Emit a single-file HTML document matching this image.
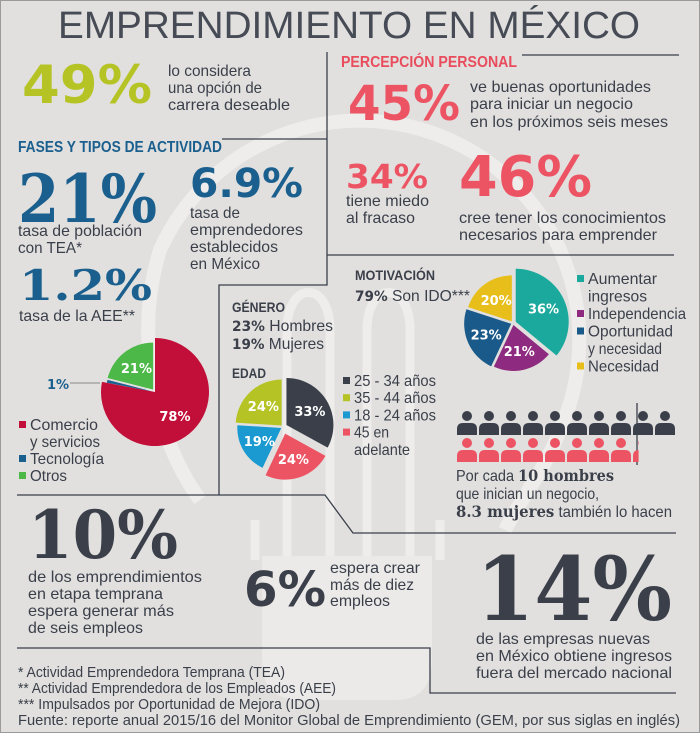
<!DOCTYPE html>
<html><head><meta charset="utf-8">
<style>
html,body{margin:0;padding:0;background:#e1e0de;}
svg{display:block}
.b{font-family:"Liberation Sans",sans-serif;font-size:16px;fill:#3a3f4a}
.h{font-family:"Liberation Sans",sans-serif;font-weight:bold}
.n{font-family:"DejaVu Sans","Liberation Sans",sans-serif;font-weight:bold}
.s{font-family:"DejaVu Serif","Liberation Serif",serif;font-weight:bold}
.w{fill:#fff;font-family:"DejaVu Sans",sans-serif;font-weight:bold;font-size:13px;text-anchor:middle}
.ln{stroke:#3a3f4a;stroke-width:1.3;fill:none}
</style></head>
<body>
<svg id="chart" width="700" height="733" viewBox="0 0 700 733" xmlns="http://www.w3.org/2000/svg">
<rect x="0" y="0" width="700" height="733" fill="#e1e0de" stroke="#9a9a9a" stroke-width="2"/>
<g fill="none" stroke="#f2f1ef" stroke-opacity="0.75">
  <path d="M200,500 C150,430 135,330 160,250 A215,215 0 1 1 560,430 C545,470 520,500 505,530" stroke-width="14"/>
  <path d="M287,560 L287,330 C287,280 330,280 330,330 L330,560" stroke-width="9"/>
  <path d="M367,560 L367,330 C367,280 410,280 410,330 L410,560" stroke-width="9"/>
  <path d="M255,560 L255,520 M440,560 L440,520" stroke-width="9"/>
</g>
<path d="M262,556 L432,556 L432,660 Q432,700 395,700 L300,700 Q262,700 262,660 Z" fill="#ebeae8"/>

<text x="349" y="38" text-anchor="middle" font-family="Liberation Sans, sans-serif" font-size="38" fill="#464b55" textLength="582" lengthAdjust="spacingAndGlyphs">EMPRENDIMIENTO EN MÉXICO</text>

<g>
<path class="ln" d="M327,52 L327,285 L219,285 L219,495 L17,495"/>
<path class="ln" d="M222,139 L327,139"/>
<path class="ln" d="M522,55 L679,55"/>
<path class="ln" d="M327,255 L674,255"/>
<path class="ln" d="M219,495 L325,495 L353,533 L676,533"/>
<path class="ln" d="M17,648 L430,648 L430,693 L676,693"/>
<path class="ln" d="M637,403 L637,465"/>
</g>

<text class="n" x="22" y="103" font-size="53" fill="#b5c424" textLength="130" lengthAdjust="spacingAndGlyphs">49%</text>
<text class="b"><tspan x="168" y="76" textLength="83" lengthAdjust="spacingAndGlyphs">lo considera</tspan><tspan x="168" y="93" textLength="94" lengthAdjust="spacingAndGlyphs">una opción de</tspan><tspan x="168" y="110" textLength="122" lengthAdjust="spacingAndGlyphs">carrera deseable</tspan></text>

<text class="h" x="18" y="152" font-size="16" fill="#1a5f8e" textLength="204" lengthAdjust="spacingAndGlyphs">FASES Y TIPOS DE ACTIVIDAD</text>
<text class="s" x="18" y="222" font-size="66" fill="#1a5f8e" textLength="139" lengthAdjust="spacingAndGlyphs">21%</text>
<text class="b"><tspan x="18" y="236" textLength="124" lengthAdjust="spacingAndGlyphs">tasa de población</tspan><tspan x="18" y="253" textLength="64" lengthAdjust="spacingAndGlyphs">con TEA*</tspan></text>
<text class="n" x="190" y="197" font-size="40" fill="#1a5f8e" textLength="113" lengthAdjust="spacingAndGlyphs">6.9%</text>
<text class="b"><tspan x="190" y="218" textLength="50" lengthAdjust="spacingAndGlyphs">tasa de</tspan><tspan x="190" y="235" textLength="113" lengthAdjust="spacingAndGlyphs">emprendedores</tspan><tspan x="190" y="252" textLength="88" lengthAdjust="spacingAndGlyphs">establecidos</tspan><tspan x="190" y="269" textLength="70" lengthAdjust="spacingAndGlyphs">en México</tspan></text>
<text class="s" x="19" y="300" font-size="42" fill="#1a5f8e" textLength="133" lengthAdjust="spacingAndGlyphs">1.2%</text>
<text class="b" x="19" y="321" textLength="116" lengthAdjust="spacingAndGlyphs">tasa de la AEE**</text>

<text class="h" x="341" y="67" font-size="16" fill="#e94c5c" textLength="176" lengthAdjust="spacingAndGlyphs">PERCEPCIÓN PERSONAL</text>
<text class="n" x="348" y="120" font-size="48" fill="#ec5464" textLength="112" lengthAdjust="spacingAndGlyphs">45%</text>
<text class="b"><tspan x="470" y="92" textLength="181" lengthAdjust="spacingAndGlyphs">ve buenas oportunidades</tspan><tspan x="470" y="109" textLength="163" lengthAdjust="spacingAndGlyphs">para iniciar un negocio</tspan><tspan x="470" y="127" textLength="198" lengthAdjust="spacingAndGlyphs">en los próximos seis meses</tspan></text>
<text class="n" x="346" y="188" font-size="33" fill="#ec5464" textLength="82" lengthAdjust="spacingAndGlyphs">34%</text>
<text class="b"><tspan x="346" y="206" textLength="83" lengthAdjust="spacingAndGlyphs">tiene miedo</tspan><tspan x="346" y="223" textLength="69" lengthAdjust="spacingAndGlyphs">al fracaso</tspan></text>
<text class="n" x="459" y="196" font-size="56" fill="#ec5464" textLength="133" lengthAdjust="spacingAndGlyphs">46%</text>
<text class="b"><tspan x="459" y="223" textLength="207" lengthAdjust="spacingAndGlyphs">cree tener los conocimientos</tspan><tspan x="459" y="240" textLength="198" lengthAdjust="spacingAndGlyphs">necesarios para emprender</tspan></text>

<text class="h" x="355" y="280" font-size="14" fill="#3a3f4a" textLength="80" lengthAdjust="spacingAndGlyphs">MOTIVACIÓN</text>
<text x="355" y="301" class="b" textLength="115" lengthAdjust="spacingAndGlyphs"><tspan class="n" font-size="14">79%</tspan> Son IDO***</text>
<g id="pie-mot"></g>
<g id="leg-mot"></g>

<text class="h" x="232" y="312" font-size="14" fill="#3a3f4a" textLength="53" lengthAdjust="spacingAndGlyphs">GÉNERO</text>
<text class="b" x="232" y="331" textLength="101" lengthAdjust="spacingAndGlyphs"><tspan class="n" font-size="14">23%</tspan> Hombres</text>
<text class="b" x="232" y="349" textLength="92" lengthAdjust="spacingAndGlyphs"><tspan class="n" font-size="14">19%</tspan> Mujeres</text>
<text class="h" x="232" y="378" font-size="14" fill="#3a3f4a" textLength="34" lengthAdjust="spacingAndGlyphs">EDAD</text>
<g id="pie-edad"></g>
<g id="leg-edad"></g>

<g id="pie-sec"></g>
<line x1="70" y1="383" x2="100" y2="383" stroke="#888" stroke-width="1"/>
<text class="n" x="47" y="389" font-size="13" fill="#1a5f8e">1%</text>
<g id="leg-sec"></g>

<g id="people"></g>
<text class="b" x="456" y="481" textLength="158" lengthAdjust="spacingAndGlyphs">Por cada <tspan class="s" font-size="16">10 hombres</tspan></text>
<text class="b" x="456" y="499" textLength="143" lengthAdjust="spacingAndGlyphs">que inician un negocio,</text>
<text class="b" x="456" y="517" textLength="216" lengthAdjust="spacingAndGlyphs"><tspan class="s" font-size="16">8.3 mujeres</tspan> también lo hacen</text>

<text class="s" x="28" y="558" font-size="66" fill="#3a3f4a" textLength="150" lengthAdjust="spacingAndGlyphs">10%</text>
<text class="b"><tspan x="28" y="582" textLength="174" lengthAdjust="spacingAndGlyphs">de los emprendimientos</tspan><tspan x="28" y="599" textLength="135" lengthAdjust="spacingAndGlyphs">en etapa temprana</tspan><tspan x="28" y="616" textLength="146" lengthAdjust="spacingAndGlyphs">espera generar más</tspan><tspan x="28" y="633" textLength="115" lengthAdjust="spacingAndGlyphs">de seis empleos</tspan></text>
<text class="n" x="244" y="606" font-size="48" fill="#3a3f4a" textLength="82" lengthAdjust="spacingAndGlyphs">6%</text>
<text class="b"><tspan x="330" y="573" textLength="90" lengthAdjust="spacingAndGlyphs">espera crear</tspan><tspan x="330" y="590" textLength="84" lengthAdjust="spacingAndGlyphs">más de diez</tspan><tspan x="330" y="606" textLength="60" lengthAdjust="spacingAndGlyphs">empleos</tspan></text>
<text class="s" x="476" y="620" font-size="88" fill="#3a3f4a" textLength="196" lengthAdjust="spacingAndGlyphs">14%</text>
<text class="b"><tspan x="476" y="644" textLength="174" lengthAdjust="spacingAndGlyphs">de las empresas nuevas</tspan><tspan x="476" y="661" textLength="196" lengthAdjust="spacingAndGlyphs">en México obtiene ingresos</tspan><tspan x="476" y="678" textLength="196" lengthAdjust="spacingAndGlyphs">fuera del mercado nacional</tspan></text>

<g class="b" style="font-size:15px">
<text x="18" y="677" textLength="267" lengthAdjust="spacingAndGlyphs">* Actividad Emprendedora Temprana (TEA)</text>
<text x="18" y="693" textLength="318" lengthAdjust="spacingAndGlyphs">** Actividad Emprendedora de los Empleados (AEE)</text>
<text x="18" y="709" textLength="302" lengthAdjust="spacingAndGlyphs">*** Impulsados por Oportunidad de Mejora (IDO)</text>
<text x="18" y="725" textLength="662" lengthAdjust="spacingAndGlyphs">Fuente: reporte anual 2015/16 del Monitor Global de Emprendimiento (GEM, por sus siglas en inglés)</text>
</g>
</svg>
<script>
const NS="http://www.w3.org/2000/svg";
const motCats=["Aumentar ingresos","Independencia","Oportunidad y necesidad","Necesidad"];
const motVals=[36,21,23,20];
const motColors=["#1aa99c","#8e2a7f","#1a5a8a","#e8bf1a"];
const edadCats=["25 - 34 años","35 - 44 años","18 - 24 años","45 en adelante"];
const edadVals=[33,24,19,24];
const edadOrder=[0,3,2,1];
const edadColors=["#3a3f4a","#b5c424","#1a9ad0","#ec5464"];
const secCats=["Comercio y servicios","Tecnología","Otros"];
const secVals=[78,1,21];
const secColors=["#c20f3a","#1a5f8e","#4cb848"];
const menCount=10;
const womenCount=8.3;

function el(tag,attrs,parent){const e=document.createElementNS(NS,tag);for(const k in attrs)e.setAttribute(k,attrs[k]);parent.appendChild(e);return e;}
function pie(g,cx,cy,vals,colors,order,radii,offsets,labels){
  const total=vals.reduce((a,b)=>a+b,0);
  let a=0;
  order.forEach((i,k)=>{
    const v=vals[i];const a0=a, a1=a+v/total*Math.PI*2; a=a1;
    const mid=(a0+a1)/2, off=offsets[k], r=radii[k];
    const ox=cx+off*Math.sin(mid), oy=cy-off*Math.cos(mid);
    const p=(ang,rr)=>[ox+rr*Math.sin(ang),oy-rr*Math.cos(ang)];
    const s=p(a0,r),e=p(a1,r);
    const path=el("path",{d:`M${ox},${oy} L${s[0]},${s[1]} A${r},${r} 0 ${a1-a0>Math.PI?1:0} 1 ${e[0]},${e[1]} Z`,fill:colors[i]},g);
    
    
    if(labels&&v>=5){
      const lp=p(mid,r*0.58);
      const t=el("text",{x:lp[0],y:lp[1]+5,class:"w"},g);
      t.textContent=v+"%";
      
      
    }
  });
}
pie(document.getElementById("pie-mot"),513,323,motVals,motColors,[0,1,2,3],[53,46,47,46],[3,2,2,2],true);
pie(document.getElementById("pie-edad"),283,427,edadVals,edadColors,edadOrder,[47,46,44,46],[4,7,2,2],true);
pie(document.getElementById("pie-sec"),155,392,secVals,secColors,[0,1,2],[54,47,47],[0,2,3],true);

function legend(g,x,y0,cats,colors,lines,widths,step){
  let y=y0;
  cats.forEach((c,i)=>{
    const r=el("rect",{x:x,y:y-9,width:7,height:7,fill:colors[i]},g);
    
    
    lines[i].forEach((ln,j)=>{
      const t=el("text",{x:x+11,y:y,class:"b",textLength:widths[i][j],lengthAdjust:"spacingAndGlyphs"},g);
      t.textContent=ln;
      
      
      y+=step;
    });
  });
}
legend(document.getElementById("leg-mot"),577,284,motCats,motColors,[["Aumentar","ingresos"],["Independencia"],["Oportunidad","y necesidad"],["Necesidad"]],[[69,59],[98],[85,74],[71]],17.5);
legend(document.getElementById("leg-edad"),343,386,edadCats,edadColors,[["25 - 34 años"],["35 - 44 años"],["18 - 24 años"],["45 en","adelante"]],[[82],[82],[82],[35,56]],17.2);
legend(document.getElementById("leg-sec"),19,430,secCats,secColors,[["Comercio","y servicios"],["Tecnología"],["Otros"]],[[68,70],[74],[37]],17);

const pg=document.getElementById("people");
function person(x,y,color,frac){
  const g=el("g",{},pg);
  
  
  if(frac<1){const id="clip"+Math.round(x);const cp=el("clipPath",{id:id},g);el("rect",{x:x-11,y:y-14,width:22*frac,height:40},cp);g.setAttribute("clip-path",`url(#${id})`);}
  el("circle",{cx:x,cy:y,r:5,fill:color},g);
  el("path",{d:`M${x-10},${y+19} L${x-10},${y+13} Q${x-10},${y+7} ${x-4},${y+7} L${x+4},${y+7} Q${x+10},${y+7} ${x+10},${y+13} L${x+10},${y+19} Z`,fill:color},g);
}
for(let i=0;i<menCount;i++) person(467+i*22,416,"#3a3f4a",1);
for(let i=0;i<Math.ceil(womenCount);i++){const f=Math.min(1,womenCount-i);person(467+i*22,443,"#ec5464",f);}
</script>
</body></html>
